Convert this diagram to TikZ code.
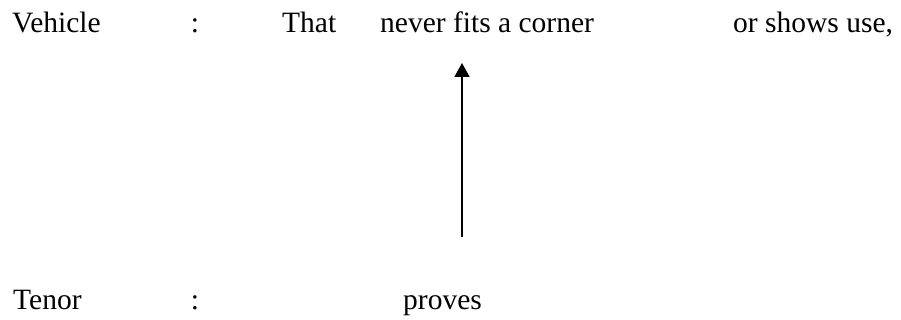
\documentclass[tikz,border=0pt]{standalone}
\usepackage{fontspec}
\setmainfont{Liberation Serif}
\usetikzlibrary{positioning,arrows.meta}
\definecolor{ink}{RGB}{0,0,0}
\tikzset{
  word/.style={font=\fontsize{29.5}{34}\selectfont, text=ink, inner sep=0pt, anchor=base west},
  colon/.style={font=\fontsize{29.5}{34}\selectfont, text=ink, inner sep=0pt, anchor=base},
  pointer/.style={-{Triangle[length=14pt,width=15pt]}, line width=1.6pt, draw=ink},
}

\begin{document}
\begin{tikzpicture}[x=1pt,y=-1pt]
  \useasboundingbox[fill=white] (0,0) rectangle (901,320);

  % Vehicle line
  \node[word] (veh) at (12,33) {Vehicle};
  \node[colon] (vcol) at (195,33) {:};
  \node[word] (that) at (282,33) {That};
  \node[word] (never) at (380,33) {never fits a corner};
  \node[word] (shows) at (733,33) {or shows use,};

  % Tenor line
  \node[word] (ten) at (13,309) {Tenor};
  \node[colon] (tcol) at (195,309) {:};
  \node[word] (proves) at (403,309) {proves};

  % Pointer
  \coordinate (foot) at (462,237);
  \coordinate (tip) at (462,63);
  \draw[pointer] (foot) -- (tip);
\end{tikzpicture}
\end{document}
